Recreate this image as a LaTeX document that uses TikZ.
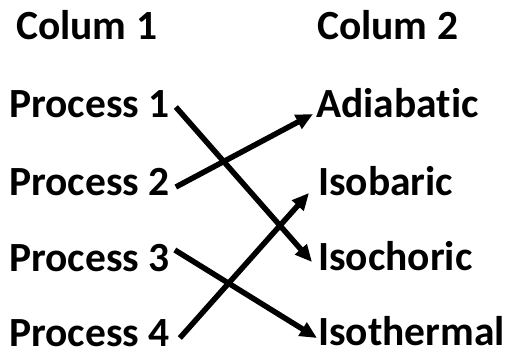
\documentclass[tikz,border=0pt]{standalone}
\usepackage{fontspec}
\setmainfont[Ligatures=NoCommon]{Carlito}
\usetikzlibrary{arrows.meta}
\begin{document}
\begin{tikzpicture}[x=1pt,y=-1pt,
  lbl/.style={anchor=base west,inner sep=0pt,font=\fontsize{41.5}{41.5}\selectfont\bfseries},
  conn/.style={line width=5.5pt,-{Triangle[length=17pt,width=15pt]}}]
\useasboundingbox (0,0) rectangle (512,356);
\node[lbl] (c1) at (16,39) {Colum 1};
\node[lbl] (c2) at (317,39) {Colum 2};
\node[lbl] (p1) at (9,117) {Process 1};
\node[lbl] (p2) at (9,195) {Process 2};
\node[lbl] (p3) at (9,271) {Process 3};
\node[lbl] (p4) at (9,346) {Process 4};
\node[lbl] (r1) at (316,117) {Adiabatic};
\node[lbl] (r2) at (318,195) {Isobaric};
\node[lbl] (r3) at (318,270) {Isochoric};
\node[lbl] (r4) at (318,345) {Isothermal};
\draw[conn] ([shift={(6,-10)}]p1.base east) -- ([shift={(-6,-8)}]r3.base west);
\draw[conn] ([shift={(6,-8)}]p2.base east) -- ([shift={(-3,-3)}]r1.base west);
\draw[conn] ([shift={(5,-21)}]p3.base east) -- ([shift={(-1,-7)}]r4.base west);
\draw[conn] ([shift={(10,-8)}]p4.base east) -- ([shift={(-9,-2)}]r2.base west);
\end{tikzpicture}
\end{document}
